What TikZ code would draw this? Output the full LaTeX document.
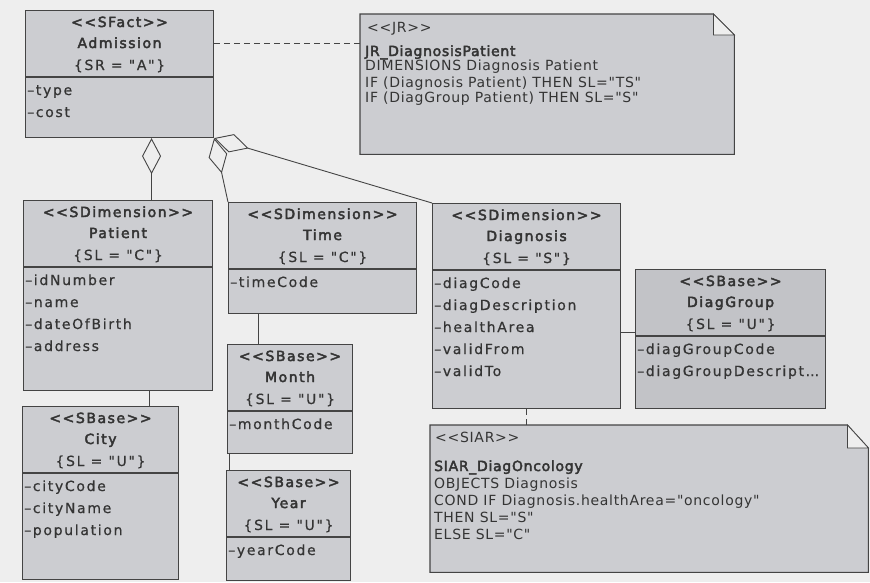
\documentclass[tikz,border=0pt]{standalone}
\usepackage{fontspec}
\newfontfamily\classfont{DejaVu Sans}[LetterSpace=12,FakeBold=0.6]
\newfontfamily\classbold{DejaVu Sans}[LetterSpace=11,FakeBold=3]
\newfontfamily\notefont{DejaVu Sans}[LetterSpace=5]
\newfontfamily\notebold{DejaVu Sans}[LetterSpace=5,FakeBold=3]
\usetikzlibrary{arrows.meta,calc}
\definecolor{pagebg}{RGB}{238,238,238}
\definecolor{boxfill}{RGB}{204,205,209}
\definecolor{boxfilldark}{RGB}{194,195,199}
\definecolor{ink}{RGB}{52,52,52}
\definecolor{edge}{RGB}{68,68,68}
\def\cfill{boxfill}
\newcommand\dotsthree{.\kern0pt.\kern0pt.}
\newcommand\umlclass[9]{%
  \node[classbox, minimum width={(#4-#2)*1pt}, minimum height={(#5-#3)*1pt}, anchor=north west] (#1) at (#2,#3) {};
  \draw[divline] ([yshift=-67pt]#1.north west) -- ([yshift=-67pt]#1.north east);
  \node[headtxt, anchor=base] (#1-st) at ([yshift=-17pt]#1.north) {#6};
  \node[headtxt, anchor=base] (#1-ti) at ([yshift=-38pt]#1.north) {#7};
  \node[txt, anchor=base] (#1-co) at ([yshift=-60pt]#1.north) {#8};
  \foreach \a [count=\i] in {#9} {%
    \pgfmathsetmacro\yy{-85-(\i-1)*22}%
    \node[txt, anchor=base west] (#1-a\i) at ([xshift=2pt,yshift=\yy pt]#1.north west) {\a};
  }%
}
\begin{document}
\begin{tikzpicture}[x=1pt,y=-1pt,
  classbox/.style={draw=edge, line width=1.1pt, fill=\cfill, inner sep=0pt},
  divline/.style={draw=edge, line width=1.1pt},
  txt/.style={inner sep=0pt, text=ink, font=\classfont\fontsize{14pt}{16pt}\selectfont},
  headtxt/.style={inner sep=0pt, text=ink, font=\classbold\fontsize{14pt}{16pt}\selectfont},
  notetxt/.style={inner sep=0pt, text=ink, font=\notefont\fontsize{14pt}{16pt}\selectfont},
  notehead/.style={inner sep=0pt, text=ink, font=\notebold\fontsize{14pt}{16pt}\selectfont},
  notebox/.style={draw=none, fill=none, inner sep=0pt},
  noteline/.style={draw=edge, line width=1.1pt, fill=boxfill},
  foldline/.style={draw=edge, line width=0.7pt, fill=pagebg},
  conn/.style={draw=edge, line width=0.9pt},
  agg/.style={conn, {Diamond[open,length=36pt,width=19pt,line width=0.9pt]}-},
  dashconn/.style={conn, dash pattern=on 6pt off 4pt}
]
\fill[pagebg] (0,0) rectangle (870,582);
\useasboundingbox (0,0) rectangle (870,582);

% classes
\umlclass{admission}{25}{10}{213}{137}{<<SFact>>}{Admission}{\{SR = "A"\}}{\textendash type,\textendash cost}
\umlclass{patient}{23}{200}{212}{390}{<<SDimension>>}{Patient}{\{SL = "C"\}}{\textendash idNumber,\textendash name,\textendash dateOfBirth,\textendash address}
\umlclass{time}{228}{202}{416}{313}{<<SDimension>>}{Time}{\{SL = "C"\}}{\textendash timeCode}
\umlclass{diagnosis}{432}{203}{620}{408}{<<SDimension>>}{Diagnosis}{\{SL = "S"\}}{\textendash diagCode,\textendash diagDescription,\textendash healthArea,\textendash validFrom,\textendash validTo}
\def\cfill{boxfilldark}
\umlclass{diaggroup}{635}{269}{825}{408}{<<SBase>>}{DiagGroup}{\{SL = "U"\}}{\textendash diagGroupCode,{\textendash diagGroupDescript\dotsthree}}
\def\cfill{boxfill}
\umlclass{month}{227}{344}{352}{453}{<<SBase>>}{Month}{\{SL = "U"\}}{\textendash monthCode}
\umlclass{year}{226}{470}{350}{580}{<<SBase>>}{Year}{\{SL = "U"\}}{\textendash yearCode}
\umlclass{city}{22}{406}{178}{579}{<<SBase>>}{City}{\{SL = "U"\}}{\textendash cityCode,\textendash cityName,\textendash population}

% JR note
\node[notebox, minimum width=374pt, minimum height=140pt, anchor=north west] (jr) at (360,14) {};
\draw[noteline] (jr.north west) -- ([xshift=-21pt]jr.north east) -- ([yshift=-21pt]jr.north east) -- (jr.south east) -- (jr.south west) -- cycle;
\draw[foldline] ([xshift=-21pt]jr.north east) -- ([xshift=-21pt,yshift=-21pt]jr.north east) -- ([yshift=-21pt]jr.north east) -- cycle;
\node[notetxt, anchor=base west] (jr-st) at ([xshift=7pt,yshift=-18pt]jr.north west) {<<JR>>};
\node[notehead, anchor=base west] (jr-ti) at ([xshift=5pt,yshift=-42pt]jr.north west) {JR\_DiagnosisPatient};
\node[notetxt, anchor=base west] (jr-l1) at ([xshift=5pt,yshift=-56pt]jr.north west) {DIMENSIONS Diagnosis Patient};
\node[notetxt, anchor=base west] (jr-l2) at ([xshift=5pt,yshift=-73pt]jr.north west) {IF (Diagnosis Patient) THEN SL="TS"};
\node[notetxt, anchor=base west] (jr-l3) at ([xshift=5pt,yshift=-88pt]jr.north west) {IF (DiagGroup Patient) THEN SL="S"};

% SIAR note
\node[notebox, minimum width=438pt, minimum height=147pt, anchor=north west] (siar) at (430,425) {};
\draw[noteline] (siar.north west) -- ([xshift=-21pt]siar.north east) -- ([yshift=-23pt]siar.north east) -- (siar.south east) -- (siar.south west) -- cycle;
\draw[foldline] ([xshift=-21pt]siar.north east) -- ([xshift=-21pt,yshift=-23pt]siar.north east) -- ([yshift=-23pt]siar.north east) -- cycle;
\node[notetxt, anchor=base west] (siar-st) at ([xshift=5pt,yshift=-17pt]siar.north west) {<<SIAR>>};
\node[notehead, anchor=base west] (siar-ti) at ([xshift=4pt,yshift=-46pt]siar.north west) {SIAR\_DiagOncology};
\node[notetxt, anchor=base west] (siar-l1) at ([xshift=4pt,yshift=-63pt]siar.north west) {OBJECTS Diagnosis};
\node[notetxt, anchor=base west] (siar-l2) at ([xshift=4pt,yshift=-80pt]siar.north west) {COND IF Diagnosis.healthArea="oncology"};
\node[notetxt, anchor=base west] (siar-l3) at ([xshift=4pt,yshift=-97pt]siar.north west) {THEN SL="S"};
\node[notetxt, anchor=base west] (siar-l4) at ([xshift=4pt,yshift=-114pt]siar.north west) {ELSE SL="C"};

% connectors
\draw[agg] ([xshift=32pt]admission.south) -- ([xshift=32pt]admission.south |- patient.north);
\draw[agg] (admission.south east) -- (time.north west);
\draw[agg] (admission.south east) -- (diagnosis.north west);
\draw[conn] ([xshift=31.5pt]patient.south) -- ([xshift=31.5pt]patient.south |- city.north);
\draw[conn] ([xshift=-64pt]time.south) -- ([xshift=-64pt]time.south |- month.north);
\draw[conn] ([xshift=-60.5pt]month.south) -- ([xshift=-60.5pt]month.south |- year.north);
\draw[conn] ([yshift=-26.5pt]diagnosis.east) -- ([yshift=-26.5pt]diagnosis.east -| diaggroup.west);
\draw[dashconn] (diagnosis.south) -- (diagnosis.south |- siar.north);
\draw[dashconn] ([yshift=30.5pt]admission.east) -- ([yshift=30.5pt]admission.east -| jr.west);
\end{tikzpicture}
\end{document}
